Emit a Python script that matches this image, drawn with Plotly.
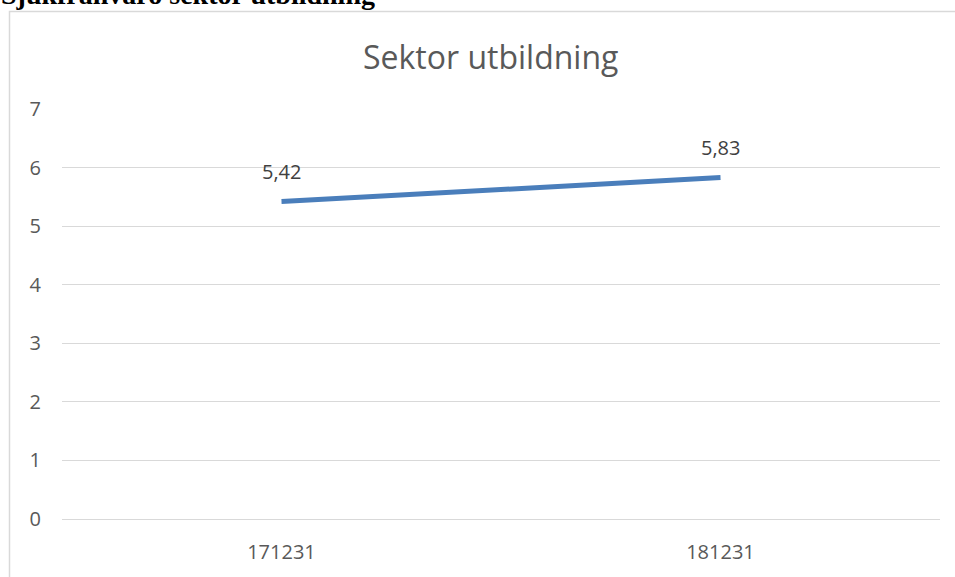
import plotly.graph_objects as go

# data
kategorier = ['171231', '181231']
varden = [5.42, 5.83]
y_ticks = [0, 1, 2, 3, 4, 5, 6, 7]

W, H = 955, 577
L, R, T, B = 62, 15, 109, 50
plot_w = W - L - R
plot_h = H - T - B

def px_to_paper_y(p):
    return (H - B - p) / plot_h

def px_to_paper_x(p):
    return (p - L) / plot_w

fig = go.Figure()

fig.add_trace(go.Scatter(
    x=kategorier, y=varden,
    mode='lines',
    line=dict(color='#4a7ebb', width=5),
    hoverinfo='skip',
    showlegend=False,
))

# data labels (x as category index)
for i, v in enumerate(varden):
    fig.add_annotation(
        x=i, y=v, xref='x', yref='y',
        text=f"{v:.2f}".replace('.', ','),
        showarrow=False, yshift=30,
        font=dict(family='Open Sans, sans-serif', size=20, color='#404040'),
    )

# title
fig.add_annotation(
    x=px_to_paper_x(490), y=px_to_paper_y(55), xref='paper', yref='paper',
    text='Sektor utbildning', showarrow=False,
    xanchor='center', yanchor='middle',
    font=dict(family='Open Sans, sans-serif', size=32, color='#595959'),
)

# clipped heading above the chart box
fig.add_annotation(
    x=px_to_paper_x(-1), y=px_to_paper_y(10), xref='paper', yref='paper',
    text='<b>Sjukfrånvaro sektor utbildning</b>', showarrow=False,
    xanchor='left', yanchor='bottom',
    font=dict(family='Liberation Serif, serif', size=28, color='#000000'),
)

# chart box border
fig.add_shape(
    type='rect', xref='paper', yref='paper',
    x0=px_to_paper_x(9.5), x1=px_to_paper_x(970),
    y0=px_to_paper_y(600), y1=px_to_paper_y(9.5),
    line=dict(color='#d9d9d9', width=1.5),
    fillcolor='rgba(0,0,0,0)', layer='below',
)

fig.update_layout(
    width=W, height=H,
    margin=dict(l=L, r=R, t=T, b=B),
    paper_bgcolor='white', plot_bgcolor='white',
    xaxis=dict(
        type='category', range=[-0.5, 1.5],
        showgrid=False, zeroline=False, showline=False,
        ticks='', ticklabelstandoff=19,
        tickfont=dict(family='Open Sans, sans-serif', size=20, color='#595959'),
        fixedrange=True,
    ),
    yaxis=dict(
        range=[0, 7], tickvals=y_ticks,
        showgrid=True, gridcolor='#d9d9d9', gridwidth=1,
        zeroline=True, zerolinecolor='#d9d9d9', zerolinewidth=1,
        showline=False, ticks='', ticklabelstandoff=20,
        tickfont=dict(family='Open Sans, sans-serif', size=20, color='#595959'),
        fixedrange=True,
    ),
)

fig.write_html(
    "out.html",
    config={'displayModeBar': False},
    post_script="document.body.style.margin='0';document.body.style.overflow='hidden';",
)
